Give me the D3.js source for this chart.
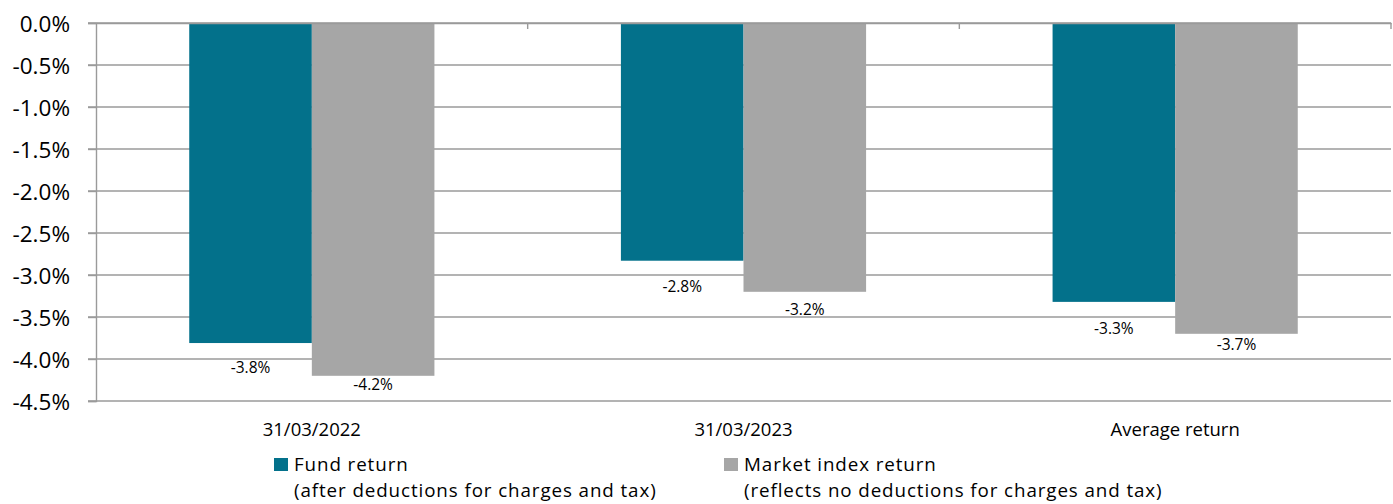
<!DOCTYPE html>
<html><head><meta charset="utf-8">
<script src="https://cdn.jsdelivr.net/npm/d3@7"></script>
<style>
body{margin:0;background:#fff;}
text{font-family:"Open Sans", sans-serif;fill:#000;}
</style></head>
<body><svg id="c" width="1393" height="504"></svg>
<script>
const categories = ["31/03/2022", "31/03/2023", "Average return"];
const fundReturn = [-3.81, -2.83, -3.32];
const marketReturn = [-4.20, -3.20, -3.70];
const fundLabels = ["-3.8%", "-2.8%", "-3.3%"];
const marketLabels = ["-4.2%", "-3.2%", "-3.7%"];
const yTicks = [0, -0.5, -1, -1.5, -2, -2.5, -3, -3.5, -4, -4.5];
const yTickLabels = ["0.0%", "-0.5%", "-1.0%", "-1.5%", "-2.0%", "-2.5%", "-3.0%", "-3.5%", "-4.0%", "-4.5%"];
const seriesNames = ["Fund return", "Market index return"];
const seriesNotes = ["(after deductions for charges and tax)", "(reflects no deductions for charges and tax)"];
const colors = ["#03718B", "#A6A6A6"];

const svg = d3.select("#c");
const pLeft = 96, pRight = 1391, pTop = 23, pBottom = 401;
const x = d3.scaleBand().domain(categories).range([pLeft, pRight]);
const y = d3.scaleLinear().domain([-4.5, 0]).range([pBottom, pTop]);
const barW = x.bandwidth() * 0.284;

// gridlines
svg.append("g").selectAll("line").data(yTicks).join("line")
  .attr("x1", pLeft - 8).attr("x2", pRight)
  .attr("y1", d => y(d)).attr("y2", d => y(d))
  .attr("stroke", "#9a9a9a").attr("stroke-width", 1.4);

// y axis
const yAxis = d3.axisLeft(y).tickValues(yTicks).tickSize(8).tickPadding(18)
  .tickFormat((d, i) => yTickLabels[i]);
const gy = svg.append("g").attr("transform", `translate(${pLeft},0)`).call(yAxis);
gy.attr("font-family", null).attr("font-size", null);
gy.select(".domain").attr("stroke", "#9a9a9a").attr("stroke-width", 1.4);
gy.selectAll(".tick line").attr("stroke", "#9a9a9a").attr("stroke-width", 1.4);
gy.selectAll(".tick text").style("font-size", "22.5px").attr("fill", "#000").attr("dy", "0.36em");

// bars
const series = [fundReturn, marketReturn];
series.forEach((vals, si) => {
  svg.append("g").selectAll("rect").data(vals).join("rect")
    .attr("x", (d, i) => x(categories[i]) + x.bandwidth() / 2 - barW + si * barW)
    .attr("y", y(0))
    .attr("width", barW)
    .attr("height", d => y(d) - y(0))
    .attr("fill", colors[si]);
});

// top axis (category axis at zero)
const xAxis = d3.axisTop(x).tickSize(0).tickFormat("");
const gx = svg.append("g").attr("transform", `translate(0,${y(0)})`).call(xAxis);
gx.select(".domain").attr("stroke", "#9a9a9a").attr("stroke-width", 1.4);
svg.append("g").selectAll("line").data(categories).join("line")
  .attr("x1", d => x(d) + x.bandwidth()).attr("x2", d => x(d) + x.bandwidth())
  .attr("y1", y(0)).attr("y2", y(0) + 6)
  .attr("stroke", "#9a9a9a").attr("stroke-width", 1.4);

// data labels
const labelDy = [[30, 31, 32], [14, 23, 16]];
[fundLabels, marketLabels].forEach((labs, si) => {
  svg.append("g").selectAll("text").data(labs).join("text")
    .attr("x", (d, i) => x(categories[i]) + x.bandwidth() / 2 - barW / 2 + si * barW)
    .attr("y", (d, i) => y(series[si][i]) + labelDy[si][i])
    .attr("text-anchor", "middle").style("font-size", "15.5px")
    .text(d => d);
});

// category labels
svg.append("g").selectAll("text").data(categories).join("text")
  .attr("x", d => x(d) + x.bandwidth() / 2)
  .attr("y", 436).attr("text-anchor", "middle").style("font-size", "18.5px")
  .text(d => d);

// legend
const legX = [274, 724];
seriesNames.forEach((n, i) => {
  const g = svg.append("g");
  g.append("rect").attr("x", legX[i]).attr("y", 458).attr("width", 14).attr("height", 13).attr("fill", colors[i]);
  g.append("text").attr("x", legX[i] + 20).attr("y", 470.5)
    .style("font-size", "18.8px").style("letter-spacing", "0.9px").text(n);
  g.append("text").attr("x", legX[i] + 20).attr("y", 496.5)
    .style("font-size", "18.8px").style("letter-spacing", "0.9px").text(seriesNotes[i]);
});
</script></body></html>
